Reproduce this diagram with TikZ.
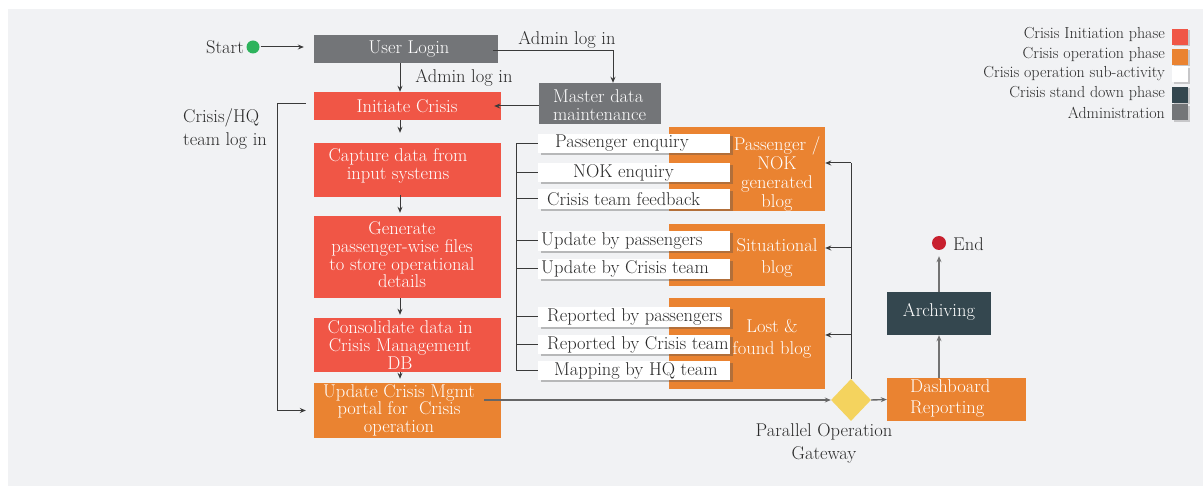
\documentclass[tikz,border=0pt]{standalone}
\usepackage{fontspec}
\usetikzlibrary{shapes.geometric,arrows.meta,calc,shadows}
\definecolor{bgc}{HTML}{F1F2F4}
\definecolor{cred}{HTML}{F05646}
\definecolor{corange}{HTML}{EA8331}
\definecolor{cgray}{HTML}{737578}
\definecolor{cdark}{HTML}{34474F}
\definecolor{cyellow}{HTML}{F4D35E}
\definecolor{cgreen}{HTML}{2DB35C}
\definecolor{cendred}{HTML}{C8202E}
\definecolor{cline}{HTML}{3A3A3A}
\definecolor{ctext}{HTML}{2A2A2A}
\begin{document}
\begin{tikzpicture}[x=1pt,y=-1pt,
  box/.style={rectangle, inner sep=0pt, draw=none},
  wt/.style={inner sep=0pt, font=\fontsize{18.5}{17.6}\selectfont, align=center, text=white},
  dt/.style={inner sep=0pt, font=\fontsize{18.5}{17.6}\selectfont, text=ctext},
  lt/.style={inner sep=0pt, font=\fontsize{16}{16}\selectfont, text=ctext, anchor=east},
  sub/.style={rectangle, inner sep=0pt, fill=white, minimum width=192pt, minimum height=19.5pt,
    drop shadow={shadow xshift=2.5pt, shadow yshift=-2pt, opacity=0.35, fill=black!70}},
  sq/.style={rectangle, inner sep=0pt, minimum size=16pt,
    drop shadow={shadow xshift=1.5pt, shadow yshift=-1.5pt, opacity=0.3, fill=black!60}},
  arr/.style={draw=cline, line width=1pt, -{Stealth[length=6pt,width=5pt]}},
  ln/.style={draw=cline, line width=1pt},
  garr/.style={draw=black!55, line width=1.8pt, -{Stealth[length=6pt,width=5pt]}},
]
\useasboundingbox (0,0) rectangle (1203,486);
\fill[bgc] (8,9) rectangle (1203,486);

% ---- main column boxes
\node[box, fill=cgray, minimum width=184pt, minimum height=28pt] (ul) at (406,49) {};
\node[box, fill=cgray, minimum width=122pt, minimum height=41pt] (md) at (600,103.5) {};
\node[box, fill=cred, minimum width=187pt, minimum height=28pt] (ic) at (407.5,106) {};
\node[box, fill=cred, minimum width=187pt, minimum height=54pt] (cap) at (407.5,170) {};
\node[box, fill=cred, minimum width=187pt, minimum height=82pt] (gen) at (407.5,257) {};
\node[box, fill=cred, minimum width=187pt, minimum height=54pt] (con) at (407.5,345) {};
\node[box, fill=corange, minimum width=187pt, minimum height=55pt] (upd) at (407.5,410.5) {};

% ---- blogs
\node[box, fill=corange, minimum width=156pt, minimum height=84pt] (b1) at (747,169) {};
\node[box, fill=corange, minimum width=156pt, minimum height=62pt] (b2) at (747,255) {};
\node[box, fill=corange, minimum width=156pt, minimum height=91pt] (b3) at (747,343.5) {};

% ---- sub-activities
\node[sub] (pe) at (634,143.5) {};
\node[sub] (nok) at (634,172.5) {};
\node[sub] (ctf) at (634,199) {};
\node[sub] (ubp) at (634,241) {};
\node[sub] (ubc) at (634,269) {};
\node[sub] (rbp) at (634,317) {};
\node[sub] (rbc) at (634,344.5) {};
\node[sub] (mhq) at (634,370.5) {};

% ---- right side
\node[diamond, fill=cyellow, minimum width=40pt, minimum height=42pt, inner sep=0pt] (gw) at (851,400) {};
\node[box, fill=corange, minimum width=139pt, minimum height=43pt] (dash) at (956.5,399.5) {};
\node[box, fill=cdark, minimum width=104pt, minimum height=43pt] (arch) at (939,313.5) {};
\node[circle, fill=cendred, minimum size=14pt, inner sep=0pt] (enddot) at (939,243) {};
\node[circle, fill=cgreen, minimum size=13pt, inner sep=0pt] (st) at (253,47) {};

% ---- texts in boxes
\node[wt] (ult) at (409,49) {User Login};
\node[wt] (ict) at (407,106) {Initiate Crisis};
\node[wt, align=left, anchor=west, font=\fontsize{18.5}{18}\selectfont] (mdt) at (553,105) {Master data\\maintenance};
\node[wt] (capt) at (398,166) {Capture data from\\input systems};
\node[wt] (gent) at (402,255) {Generate\\passenger-wise files\\to store operational\\details};
\node[wt] (cont) at (400,345) {Consolidate data in\\Crisis Management\\DB};
\node[wt] (updt) at (399,410) {Update Crisis Mgmt\\portal for\ \ Crisis\\operation};
\node[wt, font=\fontsize{18.5}{18.7}\selectfont] (b1t) at (777,174) {Passenger /\\NOK\\generated\\blog};
\node[wt, font=\fontsize{18.5}{22}\selectfont] (b2t) at (777,258) {Situational\\blog};
\node[wt, font=\fontsize{18.5}{22}\selectfont] (b3t) at (772,339) {Lost \&\\found blog};
\node[wt, align=left, anchor=west, font=\fontsize{18.5}{21}\selectfont] (dasht) at (910,398.5) {Dashboard\\Reporting};
\node[wt] (archt) at (939,312) {Archiving};

\node[dt, anchor=west] (pet) at (555,143.5) {Passenger enquiry};
\node[dt, anchor=west] (nokt) at (573,172.5) {NOK enquiry};
\node[dt, anchor=west] (ctft) at (547,199) {Crisis team feedback};
\node[dt, anchor=west] (ubpt) at (541,241) {Update by passengers};
\node[dt, anchor=west] (ubct) at (541,269) {Update by Crisis team};
\node[dt, anchor=west] (rbpt) at (547,317) {Reported by passengers};
\node[dt, anchor=west] (rbct) at (547,344.5) {Reported by Crisis team};
\node[dt, anchor=west] (mhqt) at (554,370.5) {Mapping by HQ team};

% ---- free labels
\node[dt, anchor=east] (stt) at (244,47) {Start};
\node[dt, anchor=west] (endt) at (953,244) {End};
\node[dt] (al1) at (567,40) {Admin log in};
\node[dt] (al2) at (464,78) {Admin log in};
\node[dt, anchor=west, align=left, font=\fontsize{18.5}{23}\selectfont] (chq) at (183,128.5) {Crisis/HQ\\team log in};
\node[dt, align=center, font=\fontsize{18.5}{23}\selectfont] (gwt) at (824,443.5) {Parallel Operation\\Gateway};

% ---- legend
\node[sq, fill=cred] (sq1) at (1180,37) {};
\node[sq, fill=corange] (sq2) at (1180,57) {};
\node[sq, fill=white] (sq3) at (1180,74.5) {};
\node[sq, fill=cdark] (sq4) at (1180,95) {};
\node[sq, fill=cgray] (sq5) at (1180,112.5) {};
\node[lt] (lg1) at (1165,34.5) {Crisis Initiation phase};
\node[lt] (lg2) at (1165,54) {Crisis operation phase};
\node[lt] (lg3) at (1165,73.5) {Crisis operation sub-activity};
\node[lt] (lg4) at (1165,93) {Crisis stand down phase};
\node[lt] (lg5) at (1165,113) {Administration};

% ---- connectors
\coordinate (cx) at (400,0);
\coordinate (bx) at (516,0);
\draw[arr, shorten <=1pt, shorten >=10pt] (st.east) -- (st.east -| ul.west);
\draw[arr] ([xshift=-5pt,yshift=-2pt]ul.east) -| ([xshift=13pt]md.north);
\draw[arr] (ul.south -| cx) -- (ic.north -| cx);
\draw[arr, shorten >=-7pt] (ic.east -| md.west) -- (ic.east);
\draw[arr, shorten >=10pt] (ic.south -| cx) -- (cap.north -| cx);
\draw[arr, shorten <=-2pt, shorten >=3pt] (cap.south -| cx) -- (gen.north -| cx);
\draw[arr, shorten >=3pt] (gen.south -| cx) -- (con.north -| cx);
\draw[arr, shorten >=4pt] (con.south -| cx) -- (upd.north -| cx);
\draw[arr, shorten >=8pt] ([xshift=-8pt,yshift=2pt]ic.west) -- ++(-28,0) |- (upd.west);

\draw[draw=black!60, line width=1.4pt, -{Stealth[length=6pt,width=5pt]}] ($(gw.west -| upd.east)+(-17,0)$) -- (gw.west);
\draw[draw=black!60, line width=1.4pt, -{Stealth[length=6pt,width=5pt]}] (gw.east) -- (dash.west);

\coordinate (j1) at (851,163);
\coordinate (j2) at (851,248);
\coordinate (j3) at (851,335);
\draw[ln] (gw.north) -- (j1);
\draw[arr] (j1) -- (j1 -| b1.east);
\draw[arr] (j2) -- (j2 -| b2.east);
\draw[arr] (j3) -- (j3 -| b3.east);

\draw[garr] (dash.north -| arch.south) -- (arch.south);
\draw[garr, shorten >=6pt] (arch.north) -- (enddot.south);

\draw[ln] (pe.west) -| (bx |- mhq.west) -- (mhq.west);
\foreach \n in {nok,ctf,ubp,ubc,rbp,rbc}
  \draw[ln] (\n.west) -- (\n.west -| bx);
\end{tikzpicture}
\end{document}
